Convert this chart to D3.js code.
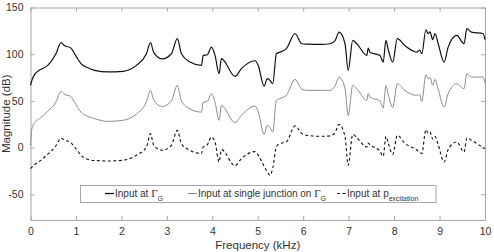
<!DOCTYPE html>
<html>
<head>
    <meta charset="utf-8">
    <title>Magnitude vs Frequency</title>
    <script src="https://d3js.org/d3.v7.min.js" charset="utf-8"></script>
    <style>
        body { margin: 0; background: #ffffff; }
        svg { display: block; font-family: "Liberation Sans", Arial, sans-serif; }
    </style>
</head>
<body>
<svg id="chart"></svg>
<script>
    // frequency points (kHz)
    const freq = [0, 0.03, 0.1, 0.2, 0.38, 0.56, 0.67, 0.75, 0.88, 1.0, 1.11, 1.26, 1.41, 1.7, 2.03,
        2.33, 2.55, 2.64, 2.71, 2.9, 3.1, 3.23, 3.32, 3.51, 3.76, 3.8, 3.89, 3.98, 4.06, 4.15, 4.2,
        4.5, 4.64, 4.94, 5.01, 5.14, 5.21, 5.27, 5.33, 5.41, 5.49, 5.63, 5.82, 5.97, 6.1, 6.4, 6.59,
        6.7, 6.79, 6.92, 6.99, 7.09, 7.18, 7.4, 7.43, 7.47, 7.69, 7.76, 7.82, 7.87, 7.97, 8.07, 8.24,
        8.5, 8.56, 8.61, 8.7, 8.75, 8.79, 8.85, 8.9, 8.97, 9.1, 9.19, 9.38, 9.54, 9.6, 9.7, 9.96, 10.0];

    // Input at Gamma_G (solid black)
    const inputGamma = [66.6, 72, 79, 83, 88, 100.5, 112.3, 109, 107, 98, 90, 85.5, 82.7, 81, 81.6,
        88, 100.5, 112.3, 102, 95, 100.5, 116.6, 100.5, 91.6, 88, 98.7, 99.4, 107.6, 98.7, 79.1, 95.2,
        76.3, 84.5, 93, 88, 65.8, 73.8, 72, 68.4, 100.5, 102.2, 105.9, 121.9, 111.2, 110.8, 110.5, 111.2,
        114.5, 123.6, 111.2, 82.7, 114.8, 111.2, 98.7, 106.5, 102.2, 98.7, 91.6, 114.8, 105, 91.6, 116.6, 109,
        102.2, 104.5, 100.5, 126.2, 122, 124, 115.5, 122, 111.2, 91.6, 107.6, 120.1, 111.2, 127.3, 123.6, 121.9, 115.5];

    // Input at single junction (solid gray)
    const inputJunction = [2, 20, 27.4, 31, 39, 48.8, 60.2, 57, 54.9, 46, 38, 33.5, 31, 28.1, 29.2,
        36, 49, 61.3, 51, 44, 50, 66.6, 50, 41.5, 38, 48.5, 49.5, 57.8, 48.5, 29.2, 45,
        26.7, 34.5, 44.5, 38.5, 14.2, 23.9, 21.5, 16.7, 50.6, 52.5, 56, 73, 62.5, 61.3, 61.3, 61.3,
        66, 75.5, 63, 34.5, 66.6, 63, 50.5, 57.8, 54, 50, 42.4, 66.6, 57, 43, 68.4, 61,
        55.9, 57, 49.5, 78, 73.5, 75.5, 66.6, 73, 62.5, 43.4, 58, 68.4, 63.1, 79.1, 75.5, 75.5, 68.4];

    // Input at p_excitation (dashed black)
    const inputExcitation = [-22.5, -21, -18, -14.5, -7, 2, 10.3, 8, 5.5, -1, -8.2, -12.5, -13.8, -14.3, -13.6,
        -8.2, 0.6, 15, 2.5, -2.9, 2.5, 18.5, 4.3, -2.9, -6.4, 0.6, 3, 11.3, 6, -15.4, -2.1,
        -19.3, -11.8, -4.3, -8, -20, -26, -29.6, -22, 1, 4.3, 6, 23.3, 15, 13, 12.1, 12.5,
        16, 24.9, 12, -18.9, 14.2, 10.5, 0.6, 4.9, 3, -4, -9.3, 12.1, 5, -7.2, 13.2, 4.5,
        -2.5, -4.7, -6.4, 19.3, 15.5, 17, 9, 12, 3, -15.4, -2, 6, -4.7, 10.2, 8, 0, -1.1];

    const xTicks = [0, 1, 2, 3, 4, 5, 6, 7, 8, 9, 10];
    const yTicks = [-50, 0, 50, 100, 150];

    let width = 494, height = 252;
    let margin = { top: 7.5, right: 9, bottom: 32, left: 30.5 };

    let svg = d3.select("#chart").attr("width", width).attr("height", height);

    let x = d3.scaleLinear().domain([0, 10]).range([margin.left, width - margin.right]);
    let y = d3.scaleLinear().domain([-77.5, 150]).range([height - margin.bottom, margin.top]);

    let axisColor = "#a6a6a6", textColor = "#333333";

    // plain hyphen for negatives, like the original
    let plain = function (d) { return String(d); };

    // box axes, ticks pointing inward
    function styleAxis(g) {
        g.select(".domain").attr("stroke", axisColor);
        g.selectAll(".tick line").attr("stroke", axisColor);
        g.selectAll(".tick text").attr("fill", textColor).attr("font-size", 10.5);
    }

    svg.append("g")
        .attr("transform", "translate(0," + y(-77.5) + ")")
        .call(d3.axisBottom(x).tickValues(xTicks).tickFormat(plain).tickSizeInner(-4).tickSizeOuter(0).tickPadding(8))
        .call(styleAxis);
    svg.append("g")
        .attr("transform", "translate(0," + y(150) + ")")
        .call(d3.axisTop(x).tickValues(xTicks).tickSizeInner(-4).tickSizeOuter(0).tickFormat(""))
        .call(styleAxis);
    svg.append("g")
        .attr("transform", "translate(" + x(0) + ",0)")
        .call(d3.axisLeft(y).tickValues(yTicks).tickFormat(plain).tickSizeInner(-4).tickSizeOuter(0).tickPadding(7))
        .call(styleAxis);
    svg.append("g")
        .attr("transform", "translate(" + x(10) + ",0)")
        .call(d3.axisRight(y).tickValues(yTicks).tickSizeInner(-4).tickSizeOuter(0).tickFormat(""))
        .call(styleAxis);

    // axis labels
    svg.append("text")
        .attr("x", x(5)).attr("y", 249)
        .attr("text-anchor", "middle").attr("font-size", 11.5).attr("fill", textColor)
        .text("Frequency (kHz)");
    svg.append("text")
        .attr("transform", "translate(10," + (y(-77.5) + y(150)) / 2 + ") rotate(-90)")
        .attr("text-anchor", "middle").attr("font-size", 11.5).attr("fill", textColor)
        .text("Magnitude (dB)");

    // curves
    let series = [
        { values: inputGamma, color: "#111111", width: 1.2, dash: null },
        { values: inputJunction, color: "#8c8c8c", width: 1, dash: null },
        { values: inputExcitation, color: "#111111", width: 1.1, dash: "3,2.5" }
    ];

    let line = d3.line()
        .curve(d3.curveMonotoneX)
        .x(function (d) { return x(d[0]); })
        .y(function (d) { return y(d[1]); });

    series.forEach(function (s) {
        svg.append("path")
            .datum(freq.map(function (f, i) { return [f, s.values[i]]; }))
            .attr("fill", "none")
            .attr("stroke", s.color)
            .attr("stroke-width", s.width)
            .attr("stroke-linejoin", "round")
            .attr("stroke-dasharray", s.dash)
            .attr("d", line);
    });

    // legend
    let legend = svg.append("g");
    legend.append("rect")
        .attr("x", 80.5).attr("y", 185.5).attr("width", 355.5).attr("height", 17)
        .attr("fill", "#ffffff").attr("stroke", axisColor).attr("stroke-width", 1);

    let legendItems = [
        { x: 105, color: "#111111", width: 1.3, dash: null, label: "Input at ", sym: "\u0393", sub: "G" },
        { x: 188, color: "#8c8c8c", width: 1, dash: null, label: "Input at single junction on ", sym: "\u0393", sub: "G" },
        { x: 337, color: "#111111", width: 1.2, dash: "3,2.5", label: "Input at p", sym: "", sub: "excitation" }
    ];

    legendItems.forEach(function (it) {
        legend.append("line")
            .attr("x1", it.x).attr("x2", it.x + 9)
            .attr("y1", 193.5).attr("y2", 193.5)
            .attr("stroke", it.color).attr("stroke-width", it.width)
            .attr("stroke-dasharray", it.dash);
        let t = legend.append("text")
            .attr("x", it.x + 10).attr("y", 197)
            .attr("font-size", 10).attr("fill", textColor);
        t.append("tspan").text(it.label);
        if (it.sym) {
            t.append("tspan").attr("font-family", "'Liberation Serif', serif").attr("font-size", 11).text(it.sym);
        }
        t.append("tspan").attr("dy", 3.5).attr("font-size", 7).text(it.sub);
    });
</script>
</body>
</html>
